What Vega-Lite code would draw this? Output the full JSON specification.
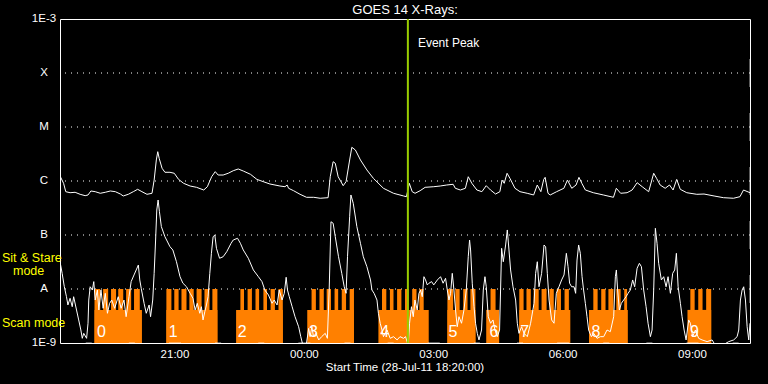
{
"$schema":"https://vega.github.io/schema/vega-lite/v6.json",
"width":690,"height":324,
"autosize":"none",
"padding":{"left":60,"top":19,"right":18,"bottom":41},
"background":"black",
"title":{"text":"GOES 14 X-Rays:","color":"white","font":"Liberation Sans","fontSize":13,"fontWeight":"normal","anchor":"middle","offset":2,"dy":6},
"config":{"view":{"stroke":"white","strokeWidth":1},"aria":false},
"datasets":{
"classes":[{"cls":"A","flux":1e-8},{"cls":"B","flux":1e-7},{"cls":"C","flux":1e-6},{"cls":"M","flux":1e-5},{"cls":"X","flux":1e-4}],
"ylabels":[{"flux":1e-9,"label":"1E-9"},{"flux":1e-8,"label":"A"},{"flux":1e-7,"label":"B"},{"flux":1e-6,"label":"C"},{"flux":1e-5,"label":"M"},{"flux":1e-4,"label":"X"},{"flux":1e-3,"label":"1E-3"}],
"xlabels":[{"time":"2011-07-28T21:00","label":"21:00"},{"time":"2011-07-29T00:00","label":"00:00"},{"time":"2011-07-29T03:00","label":"03:00"},{"time":"2011-07-29T06:00","label":"06:00"},{"time":"2011-07-29T09:00","label":"09:00"}],
"xtitle":[{"time":"2011-07-29T02:20","label":"Start Time (28-Jul-11 18:20:00)"}],
"hourmarks":[
{"time":"2011-07-28T19:00","kind":"minor"},{"time":"2011-07-28T20:00","kind":"minor"},{"time":"2011-07-28T21:00","kind":"major"},
{"time":"2011-07-28T22:00","kind":"minor"},{"time":"2011-07-28T23:00","kind":"minor"},{"time":"2011-07-29T00:00","kind":"major"},
{"time":"2011-07-29T01:00","kind":"minor"},{"time":"2011-07-29T02:00","kind":"minor"},{"time":"2011-07-29T03:00","kind":"major"},
{"time":"2011-07-29T04:00","kind":"minor"},{"time":"2011-07-29T05:00","kind":"minor"},{"time":"2011-07-29T06:00","kind":"major"},
{"time":"2011-07-29T07:00","kind":"minor"},{"time":"2011-07-29T08:00","kind":"minor"},{"time":"2011-07-29T09:00","kind":"major"},
{"time":"2011-07-29T10:00","kind":"minor"}
],
"mode":[
{"start":"2011-07-28T19:08","end":"2011-07-28T20:14","level":4.1e-9},
{"start":"2011-07-28T19:08","end":"2011-07-28T19:16","level":1e-8},
{"start":"2011-07-28T19:20","end":"2011-07-28T19:27","level":1e-8},
{"start":"2011-07-28T19:31","end":"2011-07-28T19:38","level":1e-8},
{"start":"2011-07-28T19:41","end":"2011-07-28T19:48","level":1e-8},
{"start":"2011-07-28T19:52","end":"2011-07-28T19:59","level":1e-8},
{"start":"2011-07-28T20:03","end":"2011-07-28T20:11","level":1e-8},
{"start":"2011-07-28T20:48","end":"2011-07-28T21:59","level":4.1e-9},
{"start":"2011-07-28T20:48","end":"2011-07-28T20:55","level":1e-8},
{"start":"2011-07-28T20:59","end":"2011-07-28T21:05","level":1e-8},
{"start":"2011-07-28T21:09","end":"2011-07-28T21:16","level":1e-8},
{"start":"2011-07-28T21:20","end":"2011-07-28T21:26","level":1e-8},
{"start":"2011-07-28T21:30","end":"2011-07-28T21:37","level":1e-8},
{"start":"2011-07-28T21:41","end":"2011-07-28T21:48","level":1e-8},
{"start":"2011-07-28T21:52","end":"2011-07-28T21:59","level":1e-8},
{"start":"2011-07-28T22:25","end":"2011-07-28T23:30","level":4.1e-9},
{"start":"2011-07-28T22:31","end":"2011-07-28T22:36","level":1e-8},
{"start":"2011-07-28T22:41","end":"2011-07-28T22:47","level":1e-8},
{"start":"2011-07-28T22:52","end":"2011-07-28T22:57","level":1e-8},
{"start":"2011-07-28T23:03","end":"2011-07-28T23:08","level":1e-8},
{"start":"2011-07-28T23:13","end":"2011-07-28T23:19","level":1e-8},
{"start":"2011-07-28T23:24","end":"2011-07-28T23:30","level":1e-8},
{"start":"2011-07-29T00:04","end":"2011-07-29T01:09","level":4.1e-9},
{"start":"2011-07-29T00:10","end":"2011-07-29T00:16","level":1e-8},
{"start":"2011-07-29T00:21","end":"2011-07-29T00:27","level":1e-8},
{"start":"2011-07-29T00:31","end":"2011-07-29T00:37","level":1e-8},
{"start":"2011-07-29T00:42","end":"2011-07-29T00:47","level":1e-8},
{"start":"2011-07-29T00:52","end":"2011-07-29T00:58","level":1e-8},
{"start":"2011-07-29T01:03","end":"2011-07-29T01:09","level":1e-8},
{"start":"2011-07-29T01:43","end":"2011-07-29T02:53","level":4.1e-9},
{"start":"2011-07-29T01:48","end":"2011-07-29T01:54","level":1e-8},
{"start":"2011-07-29T01:59","end":"2011-07-29T02:04","level":1e-8},
{"start":"2011-07-29T02:09","end":"2011-07-29T02:15","level":1e-8},
{"start":"2011-07-29T02:20","end":"2011-07-29T02:25","level":1e-8},
{"start":"2011-07-29T02:30","end":"2011-07-29T02:36","level":1e-8},
{"start":"2011-07-29T02:40","end":"2011-07-29T02:46","level":1e-8},
{"start":"2011-07-29T03:19","end":"2011-07-29T03:58","level":4.1e-9},
{"start":"2011-07-29T03:19","end":"2011-07-29T03:27","level":1e-8},
{"start":"2011-07-29T03:30","end":"2011-07-29T03:36","level":1e-8},
{"start":"2011-07-29T03:41","end":"2011-07-29T03:47","level":1e-8},
{"start":"2011-07-29T03:51","end":"2011-07-29T03:58","level":1e-8},
{"start":"2011-07-29T04:13","end":"2011-07-29T04:31","level":4.1e-9},
{"start":"2011-07-29T04:19","end":"2011-07-29T04:26","level":1e-8},
{"start":"2011-07-29T04:59","end":"2011-07-29T06:10","level":4.1e-9},
{"start":"2011-07-29T04:59","end":"2011-07-29T05:05","level":1e-8},
{"start":"2011-07-29T05:09","end":"2011-07-29T05:15","level":1e-8},
{"start":"2011-07-29T05:19","end":"2011-07-29T05:26","level":1e-8},
{"start":"2011-07-29T05:30","end":"2011-07-29T05:37","level":1e-8},
{"start":"2011-07-29T05:41","end":"2011-07-29T05:47","level":1e-8},
{"start":"2011-07-29T05:51","end":"2011-07-29T05:57","level":1e-8},
{"start":"2011-07-29T06:02","end":"2011-07-29T06:08","level":1e-8},
{"start":"2011-07-29T06:36","end":"2011-07-29T07:30","level":4.1e-9},
{"start":"2011-07-29T06:42","end":"2011-07-29T06:48","level":1e-8},
{"start":"2011-07-29T06:53","end":"2011-07-29T06:59","level":1e-8},
{"start":"2011-07-29T07:03","end":"2011-07-29T07:10","level":1e-8},
{"start":"2011-07-29T07:14","end":"2011-07-29T07:20","level":1e-8},
{"start":"2011-07-29T07:25","end":"2011-07-29T07:29","level":1e-8},
{"start":"2011-07-29T08:53","end":"2011-07-29T09:26","level":4.1e-9},
{"start":"2011-07-29T08:57","end":"2011-07-29T09:03","level":1e-8},
{"start":"2011-07-29T09:08","end":"2011-07-29T09:14","level":1e-8},
{"start":"2011-07-29T09:19","end":"2011-07-29T09:26","level":1e-8}
],
"orbits":[
{"time":"2011-07-28T19:10","num":"0"},{"time":"2011-07-28T20:50","num":"1"},{"time":"2011-07-28T22:26","num":"2"},
{"time":"2011-07-29T00:05","num":"3"},{"time":"2011-07-29T01:44","num":"4"},{"time":"2011-07-29T03:19","num":"5"},
{"time":"2011-07-29T04:16","num":"6"},{"time":"2011-07-29T04:59","num":"7"},{"time":"2011-07-29T06:38","num":"8"},
{"time":"2011-07-29T08:55","num":"9"}
],
"peak":[{"time":"2011-07-29T02:24","label":"Event Peak"}],
"xlong":[
{"time":"2011-07-28T18:20","flux":1.24e-6},{"time":"2011-07-28T18:25","flux":9.06e-7},{"time":"2011-07-28T18:28","flux":6.34e-7},
{"time":"2011-07-28T18:34","flux":6.07e-7},{"time":"2011-07-28T18:41","flux":6.18e-7},{"time":"2011-07-28T18:48","flux":5.67e-7},
{"time":"2011-07-28T18:55","flux":5.35e-7},{"time":"2011-07-28T18:59","flux":5.51e-7},{"time":"2011-07-28T19:03","flux":6.53e-7},
{"time":"2011-07-28T19:09","flux":6.34e-7},{"time":"2011-07-28T19:16","flux":5.92e-7},{"time":"2011-07-28T19:23","flux":6.18e-7},
{"time":"2011-07-28T19:30","flux":6.53e-7},{"time":"2011-07-28T19:37","flux":6.34e-7},{"time":"2011-07-28T19:44","flux":5.74e-7},
{"time":"2011-07-28T19:48","flux":5.28e-7},{"time":"2011-07-28T19:55","flux":5.67e-7},{"time":"2011-07-28T20:02","flux":6.34e-7},
{"time":"2011-07-28T20:08","flux":7.02e-7},{"time":"2011-07-28T20:14","flux":6.34e-7},{"time":"2011-07-28T20:21","flux":5.67e-7},
{"time":"2011-07-28T20:28","flux":5.92e-7},{"time":"2011-07-28T20:31","flux":1.04e-6},{"time":"2011-07-28T20:34","flux":2.45e-6},
{"time":"2011-07-28T20:36","flux":3.49e-6},{"time":"2011-07-28T20:38","flux":2.63e-6},{"time":"2011-07-28T20:42","flux":1.72e-6},
{"time":"2011-07-28T20:46","flux":1.45e-6},{"time":"2011-07-28T20:53","flux":1.45e-6},{"time":"2011-07-28T20:59","flux":1.39e-6},
{"time":"2011-07-28T21:05","flux":1.07e-6},{"time":"2011-07-28T21:12","flux":9.06e-7},{"time":"2011-07-28T21:21","flux":8.08e-7},
{"time":"2011-07-28T21:30","flux":7.64e-7},{"time":"2011-07-28T21:40","flux":6.81e-7},{"time":"2011-07-28T21:45","flux":7.84e-7},
{"time":"2011-07-28T21:51","flux":1.2e-6},{"time":"2011-07-28T21:56","flux":1.49e-6},{"time":"2011-07-28T22:00","flux":1.29e-6},
{"time":"2011-07-28T22:07","flux":1.29e-6},{"time":"2011-07-28T22:14","flux":1.39e-6},{"time":"2011-07-28T22:21","flux":1.55e-6},
{"time":"2011-07-28T22:28","flux":1.67e-6},{"time":"2011-07-28T22:35","flux":1.53e-6},{"time":"2011-07-28T22:45","flux":1.33e-6},
{"time":"2011-07-28T22:54","flux":1.07e-6},{"time":"2011-07-28T23:03","flux":9.7e-7},{"time":"2011-07-28T23:12","flux":8.8e-7},
{"time":"2011-07-28T23:26","flux":8.08e-7},{"time":"2011-07-28T23:33","flux":7.84e-7},{"time":"2011-07-28T23:36","flux":8.43e-7},
{"time":"2011-07-28T23:38","flux":7.33e-7},{"time":"2011-07-28T23:45","flux":6.61e-7},{"time":"2011-07-28T23:54","flux":5.67e-7},
{"time":"2011-07-29T00:03","flux":4.99e-7},{"time":"2011-07-29T00:13","flux":4.99e-7},{"time":"2011-07-29T00:22","flux":4.79e-7},
{"time":"2011-07-29T00:33","flux":4.91e-7},{"time":"2011-07-29T00:36","flux":1.2e-6},{"time":"2011-07-29T00:40","flux":2.28e-6},
{"time":"2011-07-29T00:43","flux":2.13e-6},{"time":"2011-07-29T00:47","flux":1.2e-6},{"time":"2011-07-29T00:54","flux":8.19e-7},
{"time":"2011-07-29T00:58","flux":9.7e-7},{"time":"2011-07-29T01:03","flux":2.45e-6},{"time":"2011-07-29T01:06","flux":4.21e-6},
{"time":"2011-07-29T01:11","flux":3.75e-6},{"time":"2011-07-29T01:18","flux":2.45e-6},{"time":"2011-07-29T01:27","flux":1.6e-6},
{"time":"2011-07-29T01:36","flux":1.12e-6},{"time":"2011-07-29T01:50","flux":7.33e-7},{"time":"2011-07-29T02:04","flux":5.92e-7},
{"time":"2011-07-29T02:18","flux":5.28e-7},{"time":"2011-07-29T02:22","flux":5.12e-7},{"time":"2011-07-29T02:24","flux":6.81e-7},
{"time":"2011-07-29T02:26","flux":9.06e-7},{"time":"2011-07-29T02:30","flux":6.34e-7},{"time":"2011-07-29T02:34","flux":5.92e-7},
{"time":"2011-07-29T02:41","flux":6.61e-7},{"time":"2011-07-29T02:48","flux":7.64e-7},{"time":"2011-07-29T03:00","flux":7.84e-7},
{"time":"2011-07-29T03:09","flux":8.08e-7},{"time":"2011-07-29T03:18","flux":8.43e-7},{"time":"2011-07-29T03:27","flux":8.69e-7},
{"time":"2011-07-29T03:30","flux":7.33e-7},{"time":"2011-07-29T03:37","flux":6.81e-7},{"time":"2011-07-29T03:44","flux":7.33e-7},
{"time":"2011-07-29T03:48","flux":1.2e-6},{"time":"2011-07-29T03:53","flux":9.06e-7},{"time":"2011-07-29T04:00","flux":6.81e-7},
{"time":"2011-07-29T04:07","flux":6.34e-7},{"time":"2011-07-29T04:13","flux":8.19e-7},{"time":"2011-07-29T04:19","flux":6.81e-7},
{"time":"2011-07-29T04:26","flux":5.74e-7},{"time":"2011-07-29T04:32","flux":6.34e-7},{"time":"2011-07-29T04:35","flux":1.04e-6},
{"time":"2011-07-29T04:38","flux":9.06e-7},{"time":"2011-07-29T04:42","flux":1.39e-6},{"time":"2011-07-29T04:46","flux":1.12e-6},
{"time":"2011-07-29T04:53","flux":7.33e-7},{"time":"2011-07-29T05:00","flux":6.34e-7},{"time":"2011-07-29T05:10","flux":5.92e-7},
{"time":"2011-07-29T05:19","flux":5.51e-7},{"time":"2011-07-29T05:24","flux":8.43e-7},{"time":"2011-07-29T05:29","flux":6.34e-7},
{"time":"2011-07-29T05:33","flux":1.07e-6},{"time":"2011-07-29T05:35","flux":1.17e-6},{"time":"2011-07-29T05:39","flux":5.92e-7},
{"time":"2011-07-29T05:42","flux":5.51e-7},{"time":"2011-07-29T05:51","flux":6.34e-7},{"time":"2011-07-29T06:01","flux":7.33e-7},
{"time":"2011-07-29T06:06","flux":1.04e-6},{"time":"2011-07-29T06:12","flux":7.33e-7},{"time":"2011-07-29T06:18","flux":8.43e-7},
{"time":"2011-07-29T06:22","flux":1.17e-6},{"time":"2011-07-29T06:26","flux":9.06e-7},{"time":"2011-07-29T06:31","flux":6.81e-7},
{"time":"2011-07-29T06:42","flux":6.07e-7},{"time":"2011-07-29T06:56","flux":5.51e-7},{"time":"2011-07-29T07:10","flux":4.99e-7},
{"time":"2011-07-29T07:14","flux":7.33e-7},{"time":"2011-07-29T07:20","flux":5.92e-7},{"time":"2011-07-29T07:29","flux":6.07e-7},
{"time":"2011-07-29T07:36","flux":6.81e-7},{"time":"2011-07-29T07:43","flux":9.3e-7},{"time":"2011-07-29T07:50","flux":7.84e-7},
{"time":"2011-07-29T07:59","flux":6.34e-7},{"time":"2011-07-29T08:06","flux":1.39e-6},{"time":"2011-07-29T08:10","flux":1.12e-6},
{"time":"2011-07-29T08:15","flux":8.43e-7},{"time":"2011-07-29T08:22","flux":7.33e-7},{"time":"2011-07-29T08:28","flux":8.43e-7},
{"time":"2011-07-29T08:33","flux":6.81e-7},{"time":"2011-07-29T08:38","flux":1.07e-6},{"time":"2011-07-29T08:43","flux":7.02e-7},
{"time":"2011-07-29T08:52","flux":6.07e-7},{"time":"2011-07-29T09:06","flux":5.67e-7},{"time":"2011-07-29T09:16","flux":5.74e-7},
{"time":"2011-07-29T09:30","flux":5.28e-7},{"time":"2011-07-29T09:43","flux":4.91e-7},{"time":"2011-07-29T09:57","flux":4.79e-7},
{"time":"2011-07-29T10:06","flux":5.12e-7},{"time":"2011-07-29T10:11","flux":6.81e-7},{"time":"2011-07-29T10:20","flux":6.07e-7}
],
"xshort":[
{"time":"2011-07-28T18:20:00","flux":3.2e-8},{"time":"2011-07-28T18:23:00","flux":1.95e-8},{"time":"2011-07-28T18:26:00","flux":1.1e-8},
{"time":"2011-07-28T18:29:00","flux":7.2e-9},{"time":"2011-07-28T18:31:00","flux":5.06e-9},{"time":"2011-07-28T18:34:00","flux":6.73e-9},
{"time":"2011-07-28T18:37:00","flux":4.7e-9},{"time":"2011-07-28T18:39:00","flux":7.2e-9},{"time":"2011-07-28T18:43:00","flux":4.08e-9},
{"time":"2011-07-28T18:46:00","flux":2.67e-9},{"time":"2011-07-28T18:49:00","flux":1.74e-9},{"time":"2011-07-28T18:51:00","flux":1.22e-9},
{"time":"2011-07-28T18:53:00","flux":1.51e-9},{"time":"2011-07-28T18:57:00","flux":1.22e-9},{"time":"2011-07-28T18:59:00","flux":2.32e-9},
{"time":"2011-07-28T19:00:00","flux":6.25e-9},{"time":"2011-07-28T19:02:00","flux":1.1e-8},{"time":"2011-07-28T19:05:00","flux":9.57e-9},
{"time":"2011-07-28T19:07:00","flux":1.37e-8},{"time":"2011-07-28T19:09:00","flux":6.25e-9},{"time":"2011-07-28T19:12:00","flux":9.57e-9},
{"time":"2011-07-28T19:14:00","flux":4.08e-9},{"time":"2011-07-28T19:17:00","flux":9.57e-9},{"time":"2011-07-28T19:20:00","flux":4.39e-9},
{"time":"2011-07-28T19:23:00","flux":8.32e-9},{"time":"2011-07-28T19:26:00","flux":3.55e-9},{"time":"2011-07-28T19:29:00","flux":5.43e-9},
{"time":"2011-07-28T19:32:00","flux":6.25e-9},{"time":"2011-07-28T19:36:00","flux":4.39e-9},{"time":"2011-07-28T19:41:00","flux":7.2e-9},
{"time":"2011-07-28T19:45:00","flux":4.39e-9},{"time":"2011-07-28T19:49:00","flux":6.25e-9},{"time":"2011-07-28T19:52:00","flux":3.07e-9},
{"time":"2011-07-28T19:56:00","flux":7.2e-9},{"time":"2011-07-28T19:59:00","flux":1.37e-8},{"time":"2011-07-28T20:03:00","flux":1.82e-8},
{"time":"2011-07-28T20:06:00","flux":2.25e-8},{"time":"2011-07-28T20:09:00","flux":2.78e-8},{"time":"2011-07-28T20:11:00","flux":1.47e-8},
{"time":"2011-07-28T20:13:00","flux":1.03e-8},{"time":"2011-07-28T20:17:00","flux":5.43e-9},{"time":"2011-07-28T20:20:00","flux":3.55e-9},
{"time":"2011-07-28T20:24:00","flux":5.06e-9},{"time":"2011-07-28T20:26:00","flux":3.07e-9},{"time":"2011-07-28T20:29:00","flux":6.25e-9},
{"time":"2011-07-28T20:31:00","flux":1.95e-8},{"time":"2011-07-28T20:33:00","flux":8.08e-8},{"time":"2011-07-28T20:34:40","flux":2.9e-7},
{"time":"2011-07-28T20:36:30","flux":4.45e-7},{"time":"2011-07-28T20:38:20","flux":2.7e-7},{"time":"2011-07-28T20:41:00","flux":1.43e-7},
{"time":"2011-07-28T20:46:00","flux":9.3e-8},{"time":"2011-07-28T20:53:00","flux":6.07e-8},{"time":"2011-07-28T20:57:00","flux":5.28e-8},
{"time":"2011-07-28T21:02:00","flux":3.2e-8},{"time":"2011-07-28T21:07:00","flux":1.69e-8},{"time":"2011-07-28T21:11:00","flux":1.28e-8},
{"time":"2011-07-28T21:16:00","flux":1.1e-8},{"time":"2011-07-28T21:21:00","flux":8.32e-9},{"time":"2011-07-28T21:25:00","flux":6.73e-9},
{"time":"2011-07-28T21:28:00","flux":4.08e-9},{"time":"2011-07-28T21:31:00","flux":5.43e-9},{"time":"2011-07-28T21:34:30","flux":3.55e-9},
{"time":"2011-07-28T21:36:45","flux":4.7e-9},{"time":"2011-07-28T21:39:00","flux":2.67e-9},{"time":"2011-07-28T21:41:30","flux":3.8e-9},
{"time":"2011-07-28T21:43:45","flux":5.06e-9},{"time":"2011-07-28T21:46:00","flux":7.2e-9},{"time":"2011-07-28T21:48:25","flux":1.95e-8},
{"time":"2011-07-28T21:50:40","flux":4.58e-8},{"time":"2011-07-28T21:53:00","flux":9.3e-8},{"time":"2011-07-28T21:55:25","flux":1.0e-7},
{"time":"2011-07-28T21:57:40","flux":5.67e-8},{"time":"2011-07-28T22:02:00","flux":3.71e-8},{"time":"2011-07-28T22:07:00","flux":3.96e-8},
{"time":"2011-07-28T22:12:00","flux":4.91e-8},{"time":"2011-07-28T22:18:00","flux":7.02e-8},{"time":"2011-07-28T22:21:00","flux":8.08e-8},
{"time":"2011-07-28T22:27:00","flux":8.7e-8},{"time":"2011-07-28T22:31:00","flux":7.02e-8},{"time":"2011-07-28T22:35:00","flux":5.28e-8},
{"time":"2011-07-28T22:42:00","flux":3.71e-8},{"time":"2011-07-28T22:49:00","flux":2.25e-8},{"time":"2011-07-28T22:56:00","flux":1.69e-8},
{"time":"2011-07-28T23:01:00","flux":1.37e-8},{"time":"2011-07-28T23:05:00","flux":9.57e-9},{"time":"2011-07-28T23:10:00","flux":7.74e-9},
{"time":"2011-07-28T23:15:00","flux":5.43e-9},{"time":"2011-07-28T23:18:00","flux":6.25e-9},{"time":"2011-07-28T23:22:00","flux":5.06e-9},
{"time":"2011-07-28T23:25:00","flux":9.57e-9},{"time":"2011-07-28T23:29:00","flux":6.25e-9},{"time":"2011-07-28T23:32:00","flux":8.32e-9},
{"time":"2011-07-28T23:34:40","flux":1.65e-8},{"time":"2011-07-28T23:36:30","flux":9.57e-9},{"time":"2011-07-28T23:39:00","flux":7.2e-9},
{"time":"2011-07-28T23:43:00","flux":4.7e-9},{"time":"2011-07-28T23:47:00","flux":3.07e-9},{"time":"2011-07-28T23:52:00","flux":2.0e-9},
{"time":"2011-07-28T23:55:00","flux":1.31e-9},{"time":"2011-07-28T23:58:00","flux":9e-10},{"time":"2011-07-29T00:02:30","flux":9e-10},
{"time":"2011-07-29T00:06:00","flux":1.87e-9},{"time":"2011-07-29T00:08:00","flux":1.31e-9},{"time":"2011-07-29T00:10:25","flux":2.0e-9},
{"time":"2011-07-29T00:12:40","flux":1.31e-9},{"time":"2011-07-29T00:16:00","flux":1.51e-9},{"time":"2011-07-29T00:20:00","flux":1.14e-9},
{"time":"2011-07-29T00:24:00","flux":1.31e-9},{"time":"2011-07-29T00:29:00","flux":1.51e-9},{"time":"2011-07-29T00:32:00","flux":1.22e-9},
{"time":"2011-07-29T00:34:30","flux":9.57e-9},{"time":"2011-07-29T00:37:00","flux":1.76e-7},{"time":"2011-07-29T00:40:00","flux":1.65e-7},
{"time":"2011-07-29T00:43:00","flux":9.3e-8},{"time":"2011-07-29T00:47:30","flux":3.96e-8},{"time":"2011-07-29T00:52:00","flux":1.95e-8},
{"time":"2011-07-29T00:55:25","flux":1.1e-8},{"time":"2011-07-29T00:58:00","flux":8.32e-9},{"time":"2011-07-29T01:00:00","flux":3.96e-8},
{"time":"2011-07-29T01:03:00","flux":2.18e-7},{"time":"2011-07-29T01:04:45","flux":5.51e-7},{"time":"2011-07-29T01:08:00","flux":3.86e-7},
{"time":"2011-07-29T01:13:00","flux":1.43e-7},{"time":"2011-07-29T01:18:00","flux":7.02e-8},{"time":"2011-07-29T01:22:00","flux":3.96e-8},
{"time":"2011-07-29T01:27:00","flux":2.59e-8},{"time":"2011-07-29T01:32:00","flux":1.47e-8},{"time":"2011-07-29T01:34:00","flux":9.57e-9},
{"time":"2011-07-29T01:37:00","flux":8.32e-9},{"time":"2011-07-29T01:41:00","flux":6.25e-9},{"time":"2011-07-29T01:43:00","flux":3.55e-9},
{"time":"2011-07-29T01:45:30","flux":2.32e-9},{"time":"2011-07-29T01:48:00","flux":1.74e-9},{"time":"2011-07-29T01:50:00","flux":1.31e-9},
{"time":"2011-07-29T01:55:00","flux":1.74e-9},{"time":"2011-07-29T01:59:25","flux":1.22e-9},{"time":"2011-07-29T02:04:00","flux":1.31e-9},
{"time":"2011-07-29T02:09:00","flux":1.14e-9},{"time":"2011-07-29T02:13:00","flux":1.31e-9},{"time":"2011-07-29T02:18:00","flux":1.22e-9},
{"time":"2011-07-29T02:20:45","flux":1.31e-9},{"time":"2011-07-29T02:24:30","flux":9e-10},{"time":"2011-07-29T02:26:20","flux":2.32e-9},
{"time":"2011-07-29T02:29:00","flux":4.7e-9},{"time":"2011-07-29T02:31:30","flux":3.07e-9},{"time":"2011-07-29T02:33:50","flux":6.25e-9},
{"time":"2011-07-29T02:37:00","flux":4.08e-9},{"time":"2011-07-29T02:39:25","flux":8.32e-9},{"time":"2011-07-29T02:41:40","flux":9.57e-9},
{"time":"2011-07-29T02:44:00","flux":7.2e-9},{"time":"2011-07-29T02:46:20","flux":1.69e-8},{"time":"2011-07-29T02:48:35","flux":1.47e-8},
{"time":"2011-07-29T02:51:00","flux":1.19e-8},{"time":"2011-07-29T02:53:20","flux":1.28e-8},{"time":"2011-07-29T02:57:00","flux":1.37e-8},
{"time":"2011-07-29T03:00:00","flux":1.19e-8},{"time":"2011-07-29T03:05:00","flux":1.47e-8},{"time":"2011-07-29T03:09:30","flux":1.69e-8},
{"time":"2011-07-29T03:13:00","flux":1.28e-8},{"time":"2011-07-29T03:16:25","flux":1.58e-8},{"time":"2011-07-29T03:18:50","flux":9.57e-9},
{"time":"2011-07-29T03:21:10","flux":6.25e-9},{"time":"2011-07-29T03:23:25","flux":8.32e-9},{"time":"2011-07-29T03:25:45","flux":1.95e-8},
{"time":"2011-07-29T03:28:05","flux":9.57e-9},{"time":"2011-07-29T03:30:20","flux":4.08e-9},{"time":"2011-07-29T03:32:40","flux":2.0e-9},
{"time":"2011-07-29T03:35:05","flux":3.07e-9},{"time":"2011-07-29T03:38:40","flux":2.32e-9},{"time":"2011-07-29T03:42:00","flux":4.08e-9},
{"time":"2011-07-29T03:45:15","flux":9.57e-9},{"time":"2011-07-29T03:48:00","flux":3.96e-8},{"time":"2011-07-29T03:49:50","flux":8.08e-8},
{"time":"2011-07-29T03:51:15","flux":5.28e-8},{"time":"2011-07-29T03:53:35","flux":1.28e-8},{"time":"2011-07-29T03:56:00","flux":4.7e-9},
{"time":"2011-07-29T03:58:10","flux":2.32e-9},{"time":"2011-07-29T04:00:35","flux":1.51e-9},{"time":"2011-07-29T04:02:55","flux":1.14e-9},
{"time":"2011-07-29T04:06:30","flux":1.74e-9},{"time":"2011-07-29T04:08:55","flux":9.57e-9},{"time":"2011-07-29T04:11:15","flux":1.69e-8},
{"time":"2011-07-29T04:13:05","flux":1.1e-8},{"time":"2011-07-29T04:15:50","flux":3.07e-9},{"time":"2011-07-29T04:19:05","flux":2.32e-9},
{"time":"2011-07-29T04:22:25","flux":2.67e-9},{"time":"2011-07-29T04:25:10","flux":1.74e-9},{"time":"2011-07-29T04:28:25","flux":1.31e-9},
{"time":"2011-07-29T04:31:35","flux":1.74e-9},{"time":"2011-07-29T04:34:25","flux":5.67e-8},{"time":"2011-07-29T04:36:45","flux":3.2e-8},
{"time":"2011-07-29T04:40:00","flux":6.53e-8},{"time":"2011-07-29T04:42:20","flux":1.24e-7},{"time":"2011-07-29T04:44:40","flux":5.28e-8},
{"time":"2011-07-29T04:46:55","flux":2.25e-8},{"time":"2011-07-29T04:50:15","flux":1.1e-8},{"time":"2011-07-29T04:53:55","flux":6.25e-9},
{"time":"2011-07-29T04:56:15","flux":2.32e-9},{"time":"2011-07-29T04:58:35","flux":1.51e-9},{"time":"2011-07-29T05:02:15","flux":2.0e-9},
{"time":"2011-07-29T05:05:35","flux":1.51e-9},{"time":"2011-07-29T05:10:10","flux":1.31e-9},{"time":"2011-07-29T05:14:45","flux":2.32e-9},
{"time":"2011-07-29T05:19:30","flux":5.43e-9},{"time":"2011-07-29T05:21:45","flux":1.95e-8},{"time":"2011-07-29T05:24:05","flux":3.2e-8},
{"time":"2011-07-29T05:26:25","flux":1.1e-8},{"time":"2011-07-29T05:30:05","flux":1.95e-8},{"time":"2011-07-29T05:33:25","flux":6.53e-8},
{"time":"2011-07-29T05:35:40","flux":6.07e-8},{"time":"2011-07-29T05:38:00","flux":1.95e-8},{"time":"2011-07-29T05:40:25","flux":6.25e-9},
{"time":"2011-07-29T05:44:00","flux":2.67e-9},{"time":"2011-07-29T05:47:20","flux":2.32e-9},{"time":"2011-07-29T05:50:30","flux":8.32e-9},
{"time":"2011-07-29T05:54:15","flux":1.1e-8},{"time":"2011-07-29T05:57:55","flux":1.47e-8},{"time":"2011-07-29T06:01:15","flux":1.82e-8},
{"time":"2011-07-29T06:04:30","flux":4.58e-8},{"time":"2011-07-29T06:06:50","flux":2.59e-8},{"time":"2011-07-29T06:09:00","flux":1.28e-8},
{"time":"2011-07-29T06:11:50","flux":1.1e-8},{"time":"2011-07-29T06:15:10","flux":1.1e-8},{"time":"2011-07-29T06:17:25","flux":8.32e-9},
{"time":"2011-07-29T06:19:20","flux":3.44e-8},{"time":"2011-07-29T06:21:35","flux":6.53e-8},{"time":"2011-07-29T06:23:55","flux":4.58e-8},
{"time":"2011-07-29T06:26:20","flux":1.69e-8},{"time":"2011-07-29T06:28:30","flux":9.57e-9},{"time":"2011-07-29T06:30:55","flux":5.43e-9},
{"time":"2011-07-29T06:33:15","flux":3.07e-9},{"time":"2011-07-29T06:35:30","flux":1.74e-9},{"time":"2011-07-29T06:39:15","flux":1.31e-9},
{"time":"2011-07-29T06:42:30","flux":1.51e-9},{"time":"2011-07-29T06:47:10","flux":1.22e-9},{"time":"2011-07-29T06:51:50","flux":1.31e-9},
{"time":"2011-07-29T06:56:25","flux":1.31e-9},{"time":"2011-07-29T07:01:05","flux":1.74e-9},{"time":"2011-07-29T07:05:40","flux":1.62e-9},
{"time":"2011-07-29T07:10:20","flux":3.07e-9},{"time":"2011-07-29T07:12:40","flux":1.69e-8},{"time":"2011-07-29T07:14:05","flux":2.25e-8},
{"time":"2011-07-29T07:15:50","flux":9.57e-9},{"time":"2011-07-29T07:18:15","flux":4.08e-9},{"time":"2011-07-29T07:21:00","flux":5.43e-9},
{"time":"2011-07-29T07:24:15","flux":6.25e-9},{"time":"2011-07-29T07:27:35","flux":7.2e-9},{"time":"2011-07-29T07:30:20","flux":8.32e-9},
{"time":"2011-07-29T07:33:30","flux":9.57e-9},{"time":"2011-07-29T07:36:45","flux":1.47e-8},{"time":"2011-07-29T07:39:30","flux":1.1e-8},
{"time":"2011-07-29T07:42:55","flux":2.42e-8},{"time":"2011-07-29T07:46:05","flux":2.99e-8},{"time":"2011-07-29T07:48:55","flux":2.59e-8},
{"time":"2011-07-29T07:52:05","flux":9.57e-9},{"time":"2011-07-29T07:55:25","flux":4.7e-9},{"time":"2011-07-29T07:58:10","flux":2.32e-9},
{"time":"2011-07-29T08:01:25","flux":1.31e-9},{"time":"2011-07-29T08:03:45","flux":1.74e-9},{"time":"2011-07-29T08:06:00","flux":9.57e-9},
{"time":"2011-07-29T08:08:20","flux":1.33e-7},{"time":"2011-07-29T08:10:40","flux":7.02e-8},{"time":"2011-07-29T08:12:55","flux":2.99e-8},
{"time":"2011-07-29T08:16:40","flux":1.47e-8},{"time":"2011-07-29T08:19:55","flux":1.69e-8},{"time":"2011-07-29T08:23:15","flux":1.1e-8},
{"time":"2011-07-29T08:26:00","flux":1.69e-8},{"time":"2011-07-29T08:29:15","flux":8.32e-9},{"time":"2011-07-29T08:32:25","flux":1.95e-8},
{"time":"2011-07-29T08:35:15","flux":2.25e-8},{"time":"2011-07-29T08:37:35","flux":4.58e-8},{"time":"2011-07-29T08:40:00","flux":1.1e-8},
{"time":"2011-07-29T08:43:10","flux":5.43e-9},{"time":"2011-07-29T08:45:30","flux":3.07e-9},{"time":"2011-07-29T08:48:20","flux":1.74e-9},
{"time":"2011-07-29T08:51:05","flux":1.14e-9},{"time":"2011-07-29T08:54:40","flux":2.67e-9},{"time":"2011-07-29T08:57:05","flux":2.32e-9},
{"time":"2011-07-29T09:00:15","flux":1.31e-9},{"time":"2011-07-29T09:04:00","flux":1.74e-9},{"time":"2011-07-29T09:08:35","flux":1.22e-9},
{"time":"2011-07-29T09:13:20","flux":1.14e-9},{"time":"2011-07-29T09:20:20","flux":1.06e-9},{"time":"2011-07-29T09:27:15","flux":1.14e-9},
{"time":"2011-07-29T09:31:55","flux":9e-10},{"time":"2011-07-29T09:41:10","flux":9e-10},{"time":"2011-07-29T09:50:25","flux":1.06e-9},
{"time":"2011-07-29T09:57:20","flux":1.14e-9},{"time":"2011-07-29T10:02:05","flux":1.31e-9},{"time":"2011-07-29T10:04:20","flux":1.74e-9},
{"time":"2011-07-29T10:06:40","flux":6.25e-9},{"time":"2011-07-29T10:09:00","flux":9.57e-9},{"time":"2011-07-29T10:11:15","flux":1.1e-8},
{"time":"2011-07-29T10:13:40","flux":6.25e-9},{"time":"2011-07-29T10:16:00","flux":2.0e-9},{"time":"2011-07-29T10:18:15","flux":1.14e-9},
{"time":"2011-07-29T10:20:00","flux":2.32e-9}
],
"sitstare":[{"label":"Sit & Stare","time":"2011-07-28T18:20","flux":3.75e-8},{"label":"Scan mode","time":"2011-07-28T18:20","flux":2.34e-9}],
"modeword":[{"label":"mode","time":"2011-07-28T18:20","flux":2.16e-8}]
},
"layer":[
{"data":{"name":"classes"},"mark":{"type":"rule","color":"white","strokeDash":[1,5],"strokeWidth":1},
 "encoding":{"y":{"field":"flux","type":"quantitative","scale":{"type":"log","domain":[1e-9,1e-3],"nice":false},"axis":null}}},
{"data":{"name":"mode"},"mark":{"type":"rect","color":"#ff8000"},
 "encoding":{
  "x":{"field":"start","type":"temporal","scale":{"domain":[{"year":2011,"month":7,"date":28,"hours":18,"minutes":20},{"year":2011,"month":7,"date":29,"hours":10,"minutes":20}]},"axis":null},
  "x2":{"field":"end"},
  "y":{"field":"level","type":"quantitative","axis":null},
  "y2":{"datum":1e-9}
 }},
{"data":{"name":"classes"},"mark":{"type":"tick","color":"white","orient":"vertical","thickness":1,"clip":true},
 "encoding":{"x":{"datum":{"year":2011,"month":7,"date":28,"hours":18,"minutes":20},"type":"temporal","axis":null},"y":{"field":"flux","type":"quantitative","axis":null},"size":{"value":28}}},
{"data":{"name":"classes"},"mark":{"type":"tick","color":"white","orient":"vertical","thickness":1,"clip":true},
 "encoding":{"x":{"datum":{"year":2011,"month":7,"date":29,"hours":10,"minutes":20},"type":"temporal","axis":null},"y":{"field":"flux","type":"quantitative","axis":null},"size":{"value":28}}},
{"data":{"name":"hourmarks"},"mark":{"type":"tick","color":"white","orient":"horizontal","thickness":1,"clip":true},
 "encoding":{"x":{"field":"time","type":"temporal","axis":null},"y":{"datum":1e-3,"type":"quantitative","axis":null},
  "size":{"condition":{"test":"datum.kind === 'major'","value":12},"value":6}}},
{"data":{"name":"hourmarks"},"mark":{"type":"tick","color":"white","orient":"horizontal","thickness":1,"clip":true},
 "encoding":{"x":{"field":"time","type":"temporal","axis":null},"y":{"datum":1e-9,"type":"quantitative","axis":null},
  "size":{"condition":{"test":"datum.kind === 'major'","value":12},"value":6}}},
{"data":{"name":"xlong"},"mark":{"type":"line","color":"white","strokeWidth":1,"clip":true},
 "encoding":{"x":{"field":"time","type":"temporal","axis":null},"y":{"field":"flux","type":"quantitative","axis":null}}},
{"data":{"name":"xshort"},"mark":{"type":"line","color":"white","strokeWidth":1,"clip":true},
 "encoding":{"x":{"field":"time","type":"temporal","axis":null},"y":{"field":"flux","type":"quantitative","axis":null}}},
{"data":{"name":"peak"},"mark":{"type":"rule","color":"#99cc00","strokeWidth":2},
 "encoding":{"x":{"field":"time","type":"temporal","axis":null}}},
{"data":{"name":"peak"},"mark":{"type":"text","color":"white","align":"left","baseline":"middle","dx":10,"fontSize":12,"font":"Liberation Sans"},
 "encoding":{"x":{"field":"time","type":"temporal","axis":null},"y":{"datum":3.6e-4,"type":"quantitative","axis":null},"text":{"field":"label"}}},
{"data":{"name":"orbits"},"mark":{"type":"text","color":"white","align":"left","baseline":"middle","dx":1,"fontSize":16,"font":"Liberation Sans"},
 "encoding":{"x":{"field":"time","type":"temporal","axis":null},"y":{"datum":1.6e-9,"type":"quantitative","axis":null},"text":{"field":"num"}}},
{"data":{"name":"ylabels"},"mark":{"type":"text","color":"white","align":"center","baseline":"middle","dx":-16,"fontSize":11.5,"font":"Liberation Sans"},
 "encoding":{"x":{"datum":{"year":2011,"month":7,"date":28,"hours":18,"minutes":20},"type":"temporal","axis":null},"y":{"field":"flux","type":"quantitative","axis":null},"text":{"field":"label"}}},
{"data":{"name":"xlabels"},"mark":{"type":"text","color":"white","align":"center","baseline":"middle","dy":12,"fontSize":11.5,"font":"Liberation Sans"},
 "encoding":{"x":{"field":"time","type":"temporal","axis":null},"y":{"datum":1e-9,"type":"quantitative","axis":null},"text":{"field":"label"}}},
{"data":{"name":"xtitle"},"mark":{"type":"text","color":"white","align":"center","baseline":"middle","dy":25,"fontSize":11.5,"font":"Liberation Sans"},
 "encoding":{"x":{"field":"time","type":"temporal","axis":null},"y":{"datum":1e-9,"type":"quantitative","axis":null},"text":{"field":"label"}}},
{"data":{"name":"sitstare"},"mark":{"type":"text","color":"#ffff00","align":"left","baseline":"middle","dx":-58,"fontSize":12.5,"font":"Liberation Sans"},
 "encoding":{"x":{"field":"time","type":"temporal","axis":null},"y":{"field":"flux","type":"quantitative","axis":null},"text":{"field":"label"}}},
{"data":{"name":"modeword"},"mark":{"type":"text","color":"#ffff00","align":"left","baseline":"middle","dx":-47,"fontSize":12.5,"font":"Liberation Sans"},
 "encoding":{"x":{"field":"time","type":"temporal","axis":null},"y":{"field":"flux","type":"quantitative","axis":null},"text":{"field":"label"}}}
]
}
